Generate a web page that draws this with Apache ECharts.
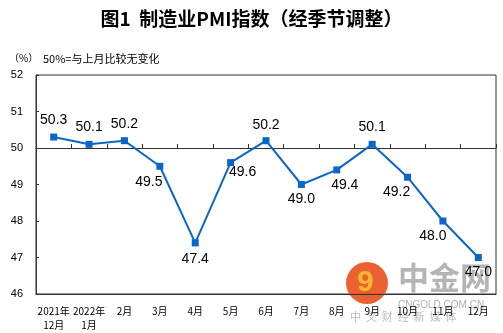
<!DOCTYPE html>
<html>
<head>
<meta charset="utf-8">
<script src="https://cdn.jsdelivr.net/npm/echarts@6/dist/echarts.min.js"></script>
<style>html,body{margin:0;padding:0;background:#fff}#c{width:503px;height:333px}</style>
</head>
<body>
<div id="c"></div>
<script>
var categories = ['2021年\n12月', '2022年\n1月', '2月', '3月', '4月', '5月', '6月', '7月', '8月', '9月', '10月', '11月', '12月'];
var pmiValues = [50.3, 50.1, 50.2, 49.5, 47.4, 49.6, 50.2, 49.0, 49.4, 50.1, 49.2, 48.0, 47.0];
var yTicks = [46, 47, 48, 49, 50, 51, 52];
var baseline = 50;
var labelOffsets = [[0,-17],[0,-17],[0,-17],[-11,16],[0,16],[12,10],[0,-16],[0,15],[8,15],[0,-17],[-11,15],[-10,15],[0,15]];

var chart = echarts.init(document.getElementById('c'), null, {renderer: 'canvas'});
var gridTop = 75, gridBottom = 39, H = 333;
var gridH = H - gridTop - gridBottom;
var yMin = yTicks[0], yMax = yTicks[yTicks.length - 1];
var baseOffset = -(baseline - yMin) / (yMax - yMin) * gridH;

var seriesData = pmiValues.map(function (v, i) {
  return {value: v, label: {offset: labelOffsets[i]}};
});

chart.setOption({
  animation: false,
  title: {
    text: '图1  制造业PMI指数（经季节调整）',
    left: 'center', top: 4,
    textStyle: {fontFamily: 'Noto Sans CJK SC', fontSize: 19, fontWeight: 'bold', color: '#000'}
  },
  graphic: [
    {type: 'text', left: 9, top: 53, style: {text: '（%）', fontFamily: 'Noto Sans CJK SC', fontSize: 10, fill: '#000'}},
    {type: 'text', left: 43, top: 53, style: {text: '50%=与上月比较无变化', fontFamily: 'Noto Sans CJK SC', fontSize: 11, fill: '#000'}},
    {type: 'circle', shape: {cx: 367, cy: 283, r: 21}, style: {fill: '#e8501c', opacity: 0.9}, z: 0},
    {type: 'text', left: 357, top: 268, style: {text: '9', fontFamily: 'Liberation Sans', fontWeight: 'bold', fontSize: 30, fill: '#f7b733'}, z: 0},
    {type: 'text', left: 398, top: 262, style: {text: '中金网', fontFamily: 'Noto Sans CJK SC', fontWeight: 'bold', fontSize: 31, fill: 'rgba(120,120,120,0.55)'}, z: 0},
    {type: 'text', left: 398, top: 300, style: {text: 'CNGOLD.COM.CN', fontFamily: 'Liberation Sans', fontSize: 10, fill: 'rgba(120,120,120,0.6)'}, z: 0},
    {type: 'text', left: 350, top: 311, style: {text: '中  文  财  经  新  媒  体', fontFamily: 'Noto Sans CJK SC', fontSize: 11, fill: 'rgba(120,120,120,0.5)'}, z: 0}
  ],
  grid: {left: 36, right: 7, top: gridTop, bottom: gridBottom, show: true, borderColor: '#333', borderWidth: 1, backgroundColor: 'transparent'},
  xAxis: [
    {
      type: 'category', data: categories, boundaryGap: true,
      axisLine: {lineStyle: {color: '#333', width: 1}},
      axisTick: {show: false},
      axisLabel: {interval: 0, fontFamily: 'Noto Sans CJK SC', fontSize: 10, color: '#000', margin: 10, lineHeight: 14}
    },
    {
      type: 'category', data: categories, boundaryGap: true, position: 'bottom', offset: baseOffset,
      axisLine: {show: true, lineStyle: {color: '#333', width: 1}},
      axisTick: {show: true, inside: true, length: 4, interval: 0, lineStyle: {color: '#333'}},
      axisLabel: {show: false}
    }
  ],
  yAxis: {
    type: 'value', min: yMin, max: yMax, interval: 1,
    axisLine: {show: true, lineStyle: {color: '#333'}},
    axisTick: {show: true, inside: true, length: 3, lineStyle: {color: '#333'}},
    splitLine: {show: false},
    axisLabel: {fontFamily: 'Liberation Sans', fontSize: 11, color: '#000', margin: 13}
  },
  series: [{
    type: 'line', xAxisIndex: 0, data: seriesData,
    symbol: 'rect', symbolSize: 7,
    lineStyle: {color: '#0a66c8', width: 2},
    itemStyle: {color: '#0a66c8'},
    z: 5,
    label: {show: true, position: 'inside', fontFamily: 'Liberation Sans', fontSize: 14, color: '#000',
      formatter: function (p) { return p.value.toFixed(1); }}
  }]
});
</script>
</body>
</html>
